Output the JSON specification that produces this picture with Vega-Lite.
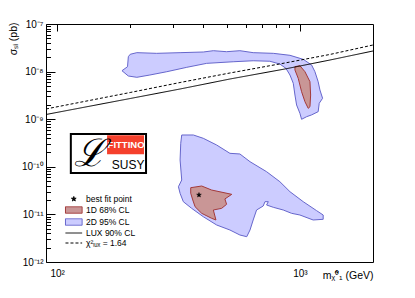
{
  "$schema": "https://vega.github.io/schema/vega-lite/v6.json",
  "width": 327,
  "height": 238,
  "autosize": {"type": "none"},
  "padding": {"left": 46, "top": 24, "right": 42, "bottom": 36},
  "config": {
    "font": "Liberation Sans",
    "view": {"stroke": "black", "strokeWidth": 1},
    "axis": {"domain": false, "labelColor": "black", "titleColor": "black", "labelFontSize": 10, "titleFontSize": 10.5, "titleFontWeight": "normal", "labelFont": "Liberation Sans", "titleFont": "Liberation Sans", "labelOverlap": false, "labelFlush": false, "zindex": 2},
    "legend": {"symbolSize": 81, "labelFontSize": 8.5, "labelFont": "Liberation Sans", "labelColor": "black", "rowPadding": 0, "padding": 0, "labelOffset": 7.2, "symbolStrokeWidth": 1, "symbolOpacity": 1, "labelLimit": 200}
  },
  "resolve": {"axis": {"x": "independent", "y": "independent"}},
  "datasets": {
    "poly": [
      {"item": "2D 95% CL", "poly": "b1", "o": 1, "x": 185, "y": 1.044e-8},
      {"item": "2D 95% CL", "poly": "b1", "o": 2, "x": 195, "y": 1.267e-8},
      {"item": "2D 95% CL", "poly": "b1", "o": 3, "x": 196.5, "y": 2.056e-8},
      {"item": "2D 95% CL", "poly": "b1", "o": 4, "x": 200, "y": 2.31e-8},
      {"item": "2D 95% CL", "poly": "b1", "o": 5, "x": 213, "y": 2.5e-8},
      {"item": "2D 95% CL", "poly": "b1", "o": 6, "x": 257, "y": 2.42e-8},
      {"item": "2D 95% CL", "poly": "b1", "o": 7, "x": 321, "y": 2.5e-8},
      {"item": "2D 95% CL", "poly": "b1", "o": 8, "x": 400, "y": 2.58e-8},
      {"item": "2D 95% CL", "poly": "b1", "o": 9, "x": 440, "y": 2.75e-8},
      {"item": "2D 95% CL", "poly": "b1", "o": 10, "x": 499, "y": 2.62e-8},
      {"item": "2D 95% CL", "poly": "b1", "o": 11, "x": 566, "y": 2.75e-8},
      {"item": "2D 95% CL", "poly": "b1", "o": 12, "x": 642, "y": 2.5e-8},
      {"item": "2D 95% CL", "poly": "b1", "o": 13, "x": 777, "y": 2.42e-8},
      {"item": "2D 95% CL", "poly": "b1", "o": 14, "x": 910, "y": 2.2e-8},
      {"item": "2D 95% CL", "poly": "b1", "o": 15, "x": 1032, "y": 1.81e-8},
      {"item": "2D 95% CL", "poly": "b1", "o": 16, "x": 1117, "y": 1.38e-8},
      {"item": "2D 95% CL", "poly": "b1", "o": 17, "x": 1153, "y": 9.95e-9},
      {"item": "2D 95% CL", "poly": "b1", "o": 18, "x": 1189, "y": 6.13e-9},
      {"item": "2D 95% CL", "poly": "b1", "o": 19, "x": 1209, "y": 4.11e-9},
      {"item": "2D 95% CL", "poly": "b1", "o": 20, "x": 1240, "y": 2.75e-9},
      {"item": "2D 95% CL", "poly": "b1", "o": 21, "x": 1201, "y": 2.16e-9},
      {"item": "2D 95% CL", "poly": "b1", "o": 22, "x": 1189, "y": 1.44e-9},
      {"item": "2D 95% CL", "poly": "b1", "o": 23, "x": 1117, "y": 1.23e-9},
      {"item": "2D 95% CL", "poly": "b1", "o": 24, "x": 1066, "y": 1.13e-9},
      {"item": "2D 95% CL", "poly": "b1", "o": 25, "x": 1016, "y": 9.95e-10},
      {"item": "2D 95% CL", "poly": "b1", "o": 26, "x": 1000, "y": 1.33e-9},
      {"item": "2D 95% CL", "poly": "b1", "o": 27, "x": 969, "y": 1.99e-9},
      {"item": "2D 95% CL", "poly": "b1", "o": 28, "x": 954, "y": 3.22e-9},
      {"item": "2D 95% CL", "poly": "b1", "o": 29, "x": 939, "y": 5.68e-9},
      {"item": "2D 95% CL", "poly": "b1", "o": 30, "x": 910, "y": 8.48e-9},
      {"item": "2D 95% CL", "poly": "b1", "o": 31, "x": 876, "y": 1.17e-8},
      {"item": "2D 95% CL", "poly": "b1", "o": 32, "x": 827, "y": 1.44e-8},
      {"item": "2D 95% CL", "poly": "b1", "o": 33, "x": 752, "y": 1.65e-8},
      {"item": "2D 95% CL", "poly": "b1", "o": 34, "x": 642, "y": 1.69e-8},
      {"item": "2D 95% CL", "poly": "b1", "o": 35, "x": 531, "y": 1.61e-8},
      {"item": "2D 95% CL", "poly": "b1", "o": 36, "x": 413, "y": 1.49e-8},
      {"item": "2D 95% CL", "poly": "b1", "o": 37, "x": 342, "y": 1.23e-8},
      {"item": "2D 95% CL", "poly": "b1", "o": 38, "x": 283, "y": 9.95e-9},
      {"item": "2D 95% CL", "poly": "b1", "o": 39, "x": 241, "y": 8.48e-9},
      {"item": "2D 95% CL", "poly": "b1", "o": 40, "x": 213, "y": 7.59e-9},
      {"item": "2D 95% CL", "poly": "b1", "o": 41, "x": 196.5, "y": 8.08e-9},
      {"item": "2D 95% CL", "poly": "b1", "o": 42, "x": 185, "y": 1.044e-8},
      {"item": "2D 95% CL", "poly": "b2", "o": 1, "x": 326, "y": 4.66e-10},
      {"item": "2D 95% CL", "poly": "b2", "o": 2, "x": 364, "y": 4.66e-10},
      {"item": "2D 95% CL", "poly": "b2", "o": 3, "x": 400, "y": 3.97e-10},
      {"item": "2D 95% CL", "poly": "b2", "o": 4, "x": 454, "y": 2.87e-10},
      {"item": "2D 95% CL", "poly": "b2", "o": 5, "x": 515, "y": 1.92e-10},
      {"item": "2D 95% CL", "poly": "b2", "o": 6, "x": 566, "y": 1.86e-10},
      {"item": "2D 95% CL", "poly": "b2", "o": 7, "x": 623, "y": 1.28e-10},
      {"item": "2D 95% CL", "poly": "b2", "o": 8, "x": 729, "y": 7.89e-11},
      {"item": "2D 95% CL", "poly": "b2", "o": 9, "x": 827, "y": 4.86e-11},
      {"item": "2D 95% CL", "poly": "b2", "o": 10, "x": 910, "y": 3.0e-11},
      {"item": "2D 95% CL", "poly": "b2", "o": 11, "x": 1032, "y": 1.85e-11},
      {"item": "2D 95% CL", "poly": "b2", "o": 12, "x": 1171, "y": 1.2e-11},
      {"item": "2D 95% CL", "poly": "b2", "o": 13, "x": 1247, "y": 9.71e-12},
      {"item": "2D 95% CL", "poly": "b2", "o": 14, "x": 1247, "y": 7.89e-12},
      {"item": "2D 95% CL", "poly": "b2", "o": 15, "x": 1134, "y": 7.63e-12},
      {"item": "2D 95% CL", "poly": "b2", "o": 16, "x": 1000, "y": 9.71e-12},
      {"item": "2D 95% CL", "poly": "b2", "o": 17, "x": 924, "y": 1.054e-11},
      {"item": "2D 95% CL", "poly": "b2", "o": 18, "x": 854, "y": 1.237e-11},
      {"item": "2D 95% CL", "poly": "b2", "o": 19, "x": 777, "y": 1.41e-11},
      {"item": "2D 95% CL", "poly": "b2", "o": 20, "x": 729, "y": 1.576e-11},
      {"item": "2D 95% CL", "poly": "b2", "o": 21, "x": 741, "y": 1.85e-11},
      {"item": "2D 95% CL", "poly": "b2", "o": 22, "x": 718, "y": 1.85e-11},
      {"item": "2D 95% CL", "poly": "b2", "o": 23, "x": 706, "y": 1.5e-11},
      {"item": "2D 95% CL", "poly": "b2", "o": 24, "x": 663, "y": 1.237e-11},
      {"item": "2D 95% CL", "poly": "b2", "o": 25, "x": 642, "y": 7.63e-12},
      {"item": "2D 95% CL", "poly": "b2", "o": 26, "x": 623, "y": 4.7e-12},
      {"item": "2D 95% CL", "poly": "b2", "o": 27, "x": 604, "y": 3.4e-12},
      {"item": "2D 95% CL", "poly": "b2", "o": 28, "x": 566, "y": 3.69e-12},
      {"item": "2D 95% CL", "poly": "b2", "o": 29, "x": 515, "y": 4.7e-12},
      {"item": "2D 95% CL", "poly": "b2", "o": 30, "x": 454, "y": 5.99e-12},
      {"item": "2D 95% CL", "poly": "b2", "o": 31, "x": 400, "y": 8.94e-12},
      {"item": "2D 95% CL", "poly": "b2", "o": 32, "x": 358, "y": 1.344e-11},
      {"item": "2D 95% CL", "poly": "b2", "o": 33, "x": 331, "y": 1.85e-11},
      {"item": "2D 95% CL", "poly": "b2", "o": 34, "x": 321, "y": 2.775e-11},
      {"item": "2D 95% CL", "poly": "b2", "o": 35, "x": 316, "y": 3.82e-11},
      {"item": "2D 95% CL", "poly": "b2", "o": 36, "x": 326, "y": 5.28e-11},
      {"item": "2D 95% CL", "poly": "b2", "o": 37, "x": 321, "y": 1.39e-10},
      {"item": "2D 95% CL", "poly": "b2", "o": 38, "x": 323, "y": 3.12e-10},
      {"item": "2D 95% CL", "poly": "b2", "o": 39, "x": 326, "y": 4.66e-10},
      {"item": "1D 68% CL", "poly": "r1", "o": 1, "x": 954, "y": 1.27e-8},
      {"item": "1D 68% CL", "poly": "r1", "o": 2, "x": 1000, "y": 1.33e-8},
      {"item": "1D 68% CL", "poly": "r1", "o": 3, "x": 1049, "y": 9.95e-9},
      {"item": "1D 68% CL", "poly": "r1", "o": 4, "x": 1100, "y": 6.13e-9},
      {"item": "1D 68% CL", "poly": "r1", "o": 5, "x": 1107, "y": 3.22e-9},
      {"item": "1D 68% CL", "poly": "r1", "o": 6, "x": 1100, "y": 1.83e-9},
      {"item": "1D 68% CL", "poly": "r1", "o": 7, "x": 1082, "y": 1.69e-9},
      {"item": "1D 68% CL", "poly": "r1", "o": 8, "x": 1049, "y": 2.33e-9},
      {"item": "1D 68% CL", "poly": "r1", "o": 9, "x": 1016, "y": 3.78e-9},
      {"item": "1D 68% CL", "poly": "r1", "o": 10, "x": 984, "y": 7.23e-9},
      {"item": "1D 68% CL", "poly": "r1", "o": 11, "x": 954, "y": 1.08e-8},
      {"item": "1D 68% CL", "poly": "r1", "o": 12, "x": 954, "y": 1.27e-8},
      {"item": "1D 68% CL", "poly": "r2", "o": 1, "x": 355, "y": 3.64e-11},
      {"item": "1D 68% CL", "poly": "r2", "o": 2, "x": 394, "y": 3.95e-11},
      {"item": "1D 68% CL", "poly": "r2", "o": 3, "x": 433, "y": 3.25e-11},
      {"item": "1D 68% CL", "poly": "r2", "o": 4, "x": 524, "y": 2.64e-11},
      {"item": "1D 68% CL", "poly": "r2", "o": 5, "x": 491, "y": 2.11e-11},
      {"item": "1D 68% CL", "poly": "r2", "o": 6, "x": 499, "y": 1.63e-11},
      {"item": "1D 68% CL", "poly": "r2", "o": 7, "x": 476, "y": 1.34e-11},
      {"item": "1D 68% CL", "poly": "r2", "o": 8, "x": 440, "y": 1.237e-11},
      {"item": "1D 68% CL", "poly": "r2", "o": 9, "x": 451, "y": 7.63e-12},
      {"item": "1D 68% CL", "poly": "r2", "o": 10, "x": 433, "y": 8.28e-12},
      {"item": "1D 68% CL", "poly": "r2", "o": 11, "x": 394, "y": 1.054e-11},
      {"item": "1D 68% CL", "poly": "r2", "o": 12, "x": 370, "y": 1.45e-11},
      {"item": "1D 68% CL", "poly": "r2", "o": 13, "x": 362, "y": 2.01e-11},
      {"item": "1D 68% CL", "poly": "r2", "o": 14, "x": 355, "y": 2.78e-11},
      {"item": "1D 68% CL", "poly": "r2", "o": 15, "x": 355, "y": 3.64e-11}
    ],
    "lux": [
      {"item": "LUX 90% CL", "o": 1, "x": 90, "y": 1.255e-9},
      {"item": "LUX 90% CL", "o": 2, "x": 200, "y": 2.72e-9},
      {"item": "LUX 90% CL", "o": 3, "x": 321, "y": 4.31e-9},
      {"item": "LUX 90% CL", "o": 4, "x": 515, "y": 6.99e-9},
      {"item": "LUX 90% CL", "o": 5, "x": 867, "y": 1.134e-8},
      {"item": "LUX 90% CL", "o": 6, "x": 1329, "y": 1.75e-8},
      {"item": "LUX 90% CL", "o": 7, "x": 2000, "y": 2.71e-8},
      {"item": "χ²ₗᵤₓ = 1.64", "o": 1, "x": 90, "y": 1.64e-9},
      {"item": "χ²ₗᵤₓ = 1.64", "o": 2, "x": 200, "y": 3.64e-9},
      {"item": "χ²ₗᵤₓ = 1.64", "o": 3, "x": 321, "y": 5.9e-9},
      {"item": "χ²ₗᵤₓ = 1.64", "o": 4, "x": 515, "y": 9.35e-9},
      {"item": "χ²ₗᵤₓ = 1.64", "o": 5, "x": 867, "y": 1.516e-8},
      {"item": "χ²ₗᵤₓ = 1.64", "o": 6, "x": 1329, "y": 2.29e-8},
      {"item": "χ²ₗᵤₓ = 1.64", "o": 7, "x": 2000, "y": 3.62e-8}
    ],
    "best": [
      {"item": "best fit point", "x": 384, "y": 2.56e-11}
    ]
  },
  "layer": [
    {
      "data": {"name": "poly"},
      "transform": [{"filter": "datum.item == '2D 95% CL'"}],
      "mark": {"type": "line", "strokeWidth": 1},
      "encoding": {
        "x": {
          "field": "x", "type": "quantitative",
          "scale": {"type": "log", "domain": [90, 2000], "nice": false, "zero": false},
          "axis": {
            "orient": "bottom",
            "values": [100, 1000],
            "labelExpr": "datum.value == 100 ? '10²' : datum.value == 1000 ? '10³' : ''",
            "ticks": false, "tickSize": 0,
            "grid": true, "gridColor": "black", "gridWidth": 1, "gridOpacity": 1, "gridDash": [7, 1000],
            "labelPadding": 6,
            "labelBaseline": "top",
            "title": "mᵪ̃⁰₁ (GeV)",
            "titleX": 327, "titleY": 16, "titleAlign": "right", "titleBaseline": "alphabetic", "titleAngle": 0
          }
        },
        "y": {
          "field": "y", "type": "quantitative",
          "scale": {"type": "log", "domain": [1e-12, 1e-7], "nice": false, "zero": false},
          "axis": {
            "orient": "left",
            "values": [1e-12, 1e-11, 1e-10, 1e-9, 1e-8, 1e-7],
            "labelExpr": "datum.value == 1e-7 ? '10⁻⁷' : datum.value == 1e-8 ? '10⁻⁸' : datum.value == 1e-9 ? '10⁻⁹' : datum.value == 1e-10 ? '10⁻¹⁰' : datum.value == 1e-11 ? '10⁻¹¹' : datum.value == 1e-12 ? '10⁻¹²' : ''",
            "ticks": false, "tickSize": 0,
            "grid": true, "gridColor": "black", "gridWidth": 1, "gridOpacity": 1, "gridDash": [9, 1000],
            "labelPadding": 3,
            "labelAlign": "right",
            "labelBaseline": "middle",
            "title": "σₛᵢ (pb)",
            "titleX": -30, "titleY": -2, "titleAlign": "right", "titleBaseline": "alphabetic", "titleAngle": 270
          }
        },
        "detail": {"field": "poly", "type": "nominal"},
        "order": {"field": "o", "type": "quantitative"},
        "fill": {"field": "item", "type": "nominal",
          "scale": {"domain": ["best fit point", "1D 68% CL", "2D 95% CL", "LUX 90% CL", "χ²ₗᵤₓ = 1.64"], "range": ["black", "#c99696", "#ccccff", "transparent", "transparent"]},
          "legend": {"title": null, "orient": "none", "legendX": 22.8, "legendY": 170}},
        "stroke": {"field": "item", "type": "nominal",
          "scale": {"domain": ["best fit point", "1D 68% CL", "2D 95% CL", "LUX 90% CL", "χ²ₗᵤₓ = 1.64"], "range": ["black", "#a33a3a", "#6666cc", "black", "black"]},
          "legend": {"title": null, "orient": "none", "legendX": 22.8, "legendY": 170}}
      }
    },
    {
      "data": {"name": "poly"},
      "transform": [{"filter": "datum.item == '1D 68% CL'"}],
      "mark": {"type": "line", "strokeWidth": 1},
      "encoding": {
        "x": {"field": "x", "type": "quantitative", "axis": null},
        "y": {"field": "y", "type": "quantitative", "axis": null},
        "detail": {"field": "poly", "type": "nominal"},
        "order": {"field": "o", "type": "quantitative"},
        "fill": {"field": "item", "type": "nominal", "legend": {"title": null, "orient": "none", "legendX": 22.8, "legendY": 170}},
        "stroke": {"field": "item", "type": "nominal", "legend": {"title": null, "orient": "none", "legendX": 22.8, "legendY": 170}}
      }
    },
    {
      "data": {"name": "lux"},
      "mark": {"type": "line", "strokeWidth": 1},
      "encoding": {
        "x": {"field": "x", "type": "quantitative",
          "axis": {"orient": "bottom", "values": [200, 300, 400, 500, 600, 700, 800, 900], "labels": false, "title": null, "ticks": false, "tickSize": 0, "grid": true, "gridColor": "black", "gridWidth": 1, "gridOpacity": 1, "gridDash": [3.5, 1000]}},
        "y": {"field": "y", "type": "quantitative",
          "axis": {"orient": "left", "values": [2e-12, 3e-12, 4e-12, 5e-12, 6e-12, 7e-12, 8e-12, 9e-12, 2e-11, 3e-11, 4e-11, 5e-11, 6e-11, 7e-11, 8e-11, 9e-11, 2e-10, 3e-10, 4e-10, 5e-10, 6e-10, 7e-10, 8e-10, 9e-10, 2e-9, 3e-9, 4e-9, 5e-9, 6e-9, 7e-9, 8e-9, 9e-9, 2e-8, 3e-8, 4e-8, 5e-8, 6e-8, 7e-8, 8e-8, 9e-8], "labels": false, "title": null, "ticks": false, "tickSize": 0, "grid": true, "gridColor": "black", "gridWidth": 1, "gridOpacity": 1, "gridDash": [4.5, 1000]}},
        "order": {"field": "o", "type": "quantitative"},
        "stroke": {"field": "item", "type": "nominal", "legend": {"title": null, "orient": "none", "legendX": 22.8, "legendY": 170}},
        "strokeDash": {"field": "item", "type": "nominal",
          "scale": {"domain": ["best fit point", "1D 68% CL", "2D 95% CL", "LUX 90% CL", "χ²ₗᵤₓ = 1.64"], "range": [[1, 0], [1, 0], [1, 0], [1, 0], [3, 2]]},
          "legend": {"title": null, "orient": "none", "legendX": 22.8, "legendY": 170}}
      }
    },
    {
      "data": {"name": "best"},
      "mark": {"type": "point", "filled": true, "size": 81, "opacity": 1, "strokeWidth": 0.5},
      "encoding": {
        "x": {"field": "x", "type": "quantitative", "axis": null},
        "y": {"field": "y", "type": "quantitative", "axis": null},
        "shape": {"field": "item", "type": "nominal",
          "scale": {"domain": ["best fit point", "1D 68% CL", "2D 95% CL", "LUX 90% CL", "χ²ₗᵤₓ = 1.64"], "range": ["M0,-0.55L0.129,-0.178L0.523,-0.17L0.209,0.068L0.323,0.445L0,0.22L-0.323,0.445L-0.209,0.068L-0.523,-0.17L-0.129,-0.178Z", "M-1.85,-0.72H1.85V0.72H-1.85Z", "M-1.85,-0.72H1.85V0.72H-1.85Z", "M-1.85,0H1.85", "M-1.85,0H1.85"]},
          "legend": {"title": null, "orient": "none", "legendX": 22.8, "legendY": 170}},
        "fill": {"field": "item", "type": "nominal", "legend": {"title": null, "orient": "none", "legendX": 22.8, "legendY": 170}},
        "stroke": {"field": "item", "type": "nominal", "legend": {"title": null, "orient": "none", "legendX": 22.8, "legendY": 170}}
      }
    },
    {
      "data": {"values": [{}]},
      "mark": {"type": "rect", "fill": "white", "stroke": "black", "strokeWidth": 2, "invalid": "show"},
      "encoding": {
        "x": {"datum": 113.9, "type": "quantitative", "axis": null},
        "x2": {"datum": 232.4},
        "y": {"datum": 4.89e-10, "type": "quantitative", "axis": null},
        "y2": {"datum": 7.41e-11}
      }
    },
    {
      "data": {"values": [{}]},
      "mark": {"type": "rect", "fill": "#f5402c", "invalid": "show"},
      "encoding": {
        "x": {"datum": 160.6, "type": "quantitative", "axis": null},
        "x2": {"datum": 228},
        "y": {"datum": 4.6e-10, "type": "quantitative", "axis": null},
        "y2": {"datum": 1.83e-10}
      }
    },
    {
      "data": {"values": [{}]},
      "mark": {"type": "text", "text": "FITTINO", "fill": "white", "font": "Liberation Sans", "fontSize": 9.5, "fontWeight": "bold", "align": "center", "baseline": "middle", "invalid": "show"},
      "encoding": {
        "x": {"datum": 192.3, "type": "quantitative", "axis": null},
        "y": {"datum": 2.87e-10, "type": "quantitative", "axis": null}
      }
    },
    {
      "data": {"values": [{}]},
      "mark": {"type": "text", "text": "SUSY", "fill": "black", "font": "Liberation Sans", "fontSize": 12, "align": "center", "baseline": "middle", "invalid": "show"},
      "encoding": {
        "x": {"datum": 196, "type": "quantitative", "axis": null},
        "y": {"datum": 1.09e-10, "type": "quantitative", "axis": null}
      }
    },
    {
      "data": {"values": [{}]},
      "mark": {"type": "text", "text": "ℒ", "fill": "black", "font": "DejaVu Serif", "fontStyle": "italic", "fontSize": 38, "align": "center", "baseline": "middle", "invalid": "show"},
      "encoding": {
        "x": {"datum": 136.7, "type": "quantitative", "axis": null},
        "y": {"datum": 1.77e-10, "type": "quantitative", "axis": null}
      }
    }
  ]
}
